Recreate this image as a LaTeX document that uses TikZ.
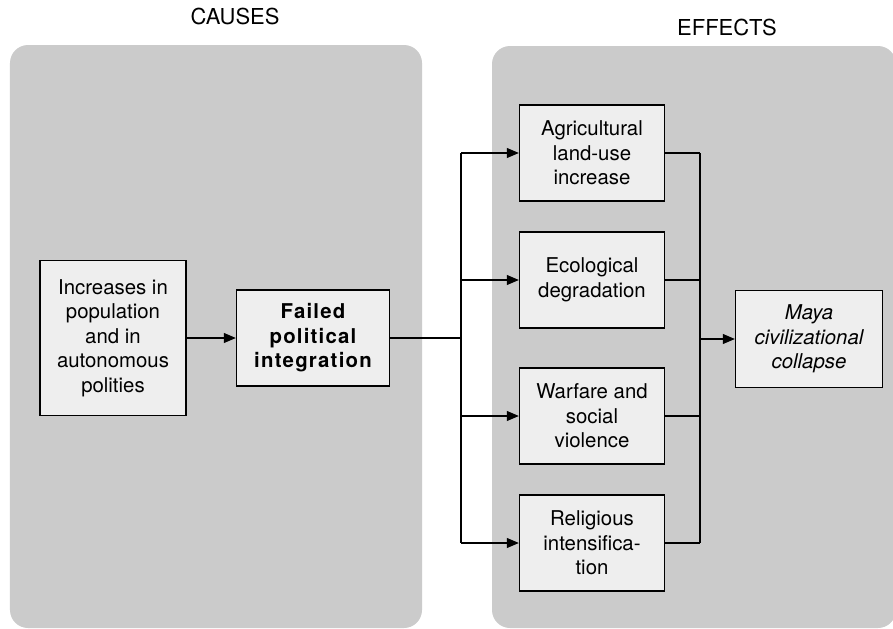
\documentclass[tikz,border=0pt]{standalone}
\usepackage{fontspec}
\setmainfont{TeX Gyre Heros}
\usetikzlibrary{arrows.meta}

\definecolor{grigiopannello}{RGB}{203,203,203}
\definecolor{grigioriquadro}{RGB}{238,238,238}

\begin{document}
\begin{tikzpicture}[
  font=\fontsize{11.6}{14}\selectfont,
  pannello/.style={fill=grigiopannello, draw=none, rounded corners=0.36cm},
  riquadro/.style={draw=black, line width=0.8pt, fill=grigioriquadro, align=center, inner sep=2pt},
  filo/.style={draw=black, line width=0.6pt},
  freccia/.style={filo, -{Triangle[length=0.24cm, width=0.2cm]}},
  titolo/.style={inner sep=1pt, font=\fontsize{12.5}{14}\selectfont}
]
\useasboundingbox (0.000,0.000) rectangle (17.860,-12.580);

%--------------------------------------------------------------
% Pannelli di sfondo e titoli
%--------------------------------------------------------------
\fill[pannello] (0.200,-0.900) rectangle (8.440,-12.560);
\fill[pannello] (9.840,-0.920) rectangle (17.920,-12.560);
\node[titolo] (cause) at (4.700,-0.320) {CAUSES};
\node[titolo] (effetti) at (14.540,-0.540) {EFFECTS};

%--------------------------------------------------------------
% Cause
%--------------------------------------------------------------
\node[riquadro, minimum width=2.92cm, minimum height=3.10cm] (aumento) at (2.260,-6.760)
  {Increases in\\population\\and in\\autonomous\\polities};
\node[riquadro, minimum width=3.06cm, minimum height=1.92cm,
      font=\fontsize{11.6}{14}\selectfont\bfseries\addfontfeature{LetterSpace=6}] (fallimento) at (6.260,-6.760)
  {Failed\\political\\integration};
\draw[freccia] (aumento.east) -- (fallimento.west);

%--------------------------------------------------------------
% Effetti
%--------------------------------------------------------------
\node[riquadro, minimum width=2.90cm, minimum height=1.92cm] (agricoltura) at (11.840,-3.060)
  {Agricultural\\land-use\\increase};
\node[riquadro, minimum width=2.90cm, minimum height=1.92cm] (ecologia) at (11.840,-5.600)
  {Ecological\\degradation};
\node[riquadro, minimum width=2.90cm, minimum height=1.92cm] (guerra) at (11.840,-8.320)
  {Warfare and\\social\\violence};
\node[riquadro, minimum width=2.90cm, minimum height=1.92cm] (religione) at (11.840,-10.860)
  {Religious\\intensifica-\\tion};
\node[riquadro, minimum width=2.94cm, minimum height=1.94cm,
      font=\fontsize{11.6}{14}\selectfont\itshape] (collasso) at (16.180,-6.780)
  {Maya\\civilizational\\collapse};

%--------------------------------------------------------------
% Diramazione verso gli effetti
%--------------------------------------------------------------
\coordinate (bivio) at (9.220,-6.760);
\draw[filo] (fallimento.east) -- (bivio);
\draw[filo] (bivio |- agricoltura.west) -- (bivio |- religione.west);
\draw[freccia] (bivio |- agricoltura.west) -- (agricoltura.west);
\draw[freccia] (bivio |- ecologia.west) -- (ecologia.west);
\draw[freccia] (bivio |- guerra.west) -- (guerra.west);
\draw[freccia] (bivio |- religione.west) -- (religione.west);

%--------------------------------------------------------------
% Convergenza verso il collasso
%--------------------------------------------------------------
\coordinate (giunzione) at (14.000,-6.780);
\draw[filo] (agricoltura.east) -- (giunzione |- agricoltura.east);
\draw[filo] (ecologia.east) -- (giunzione |- ecologia.east);
\draw[filo] (guerra.east) -- (giunzione |- guerra.east);
\draw[filo] (religione.east) -- (giunzione |- religione.east);
\draw[filo] (giunzione |- agricoltura.east) -- (giunzione |- religione.east);
\draw[freccia] (giunzione |- collasso.west) -- (collasso.west);

\end{tikzpicture}
\end{document}
